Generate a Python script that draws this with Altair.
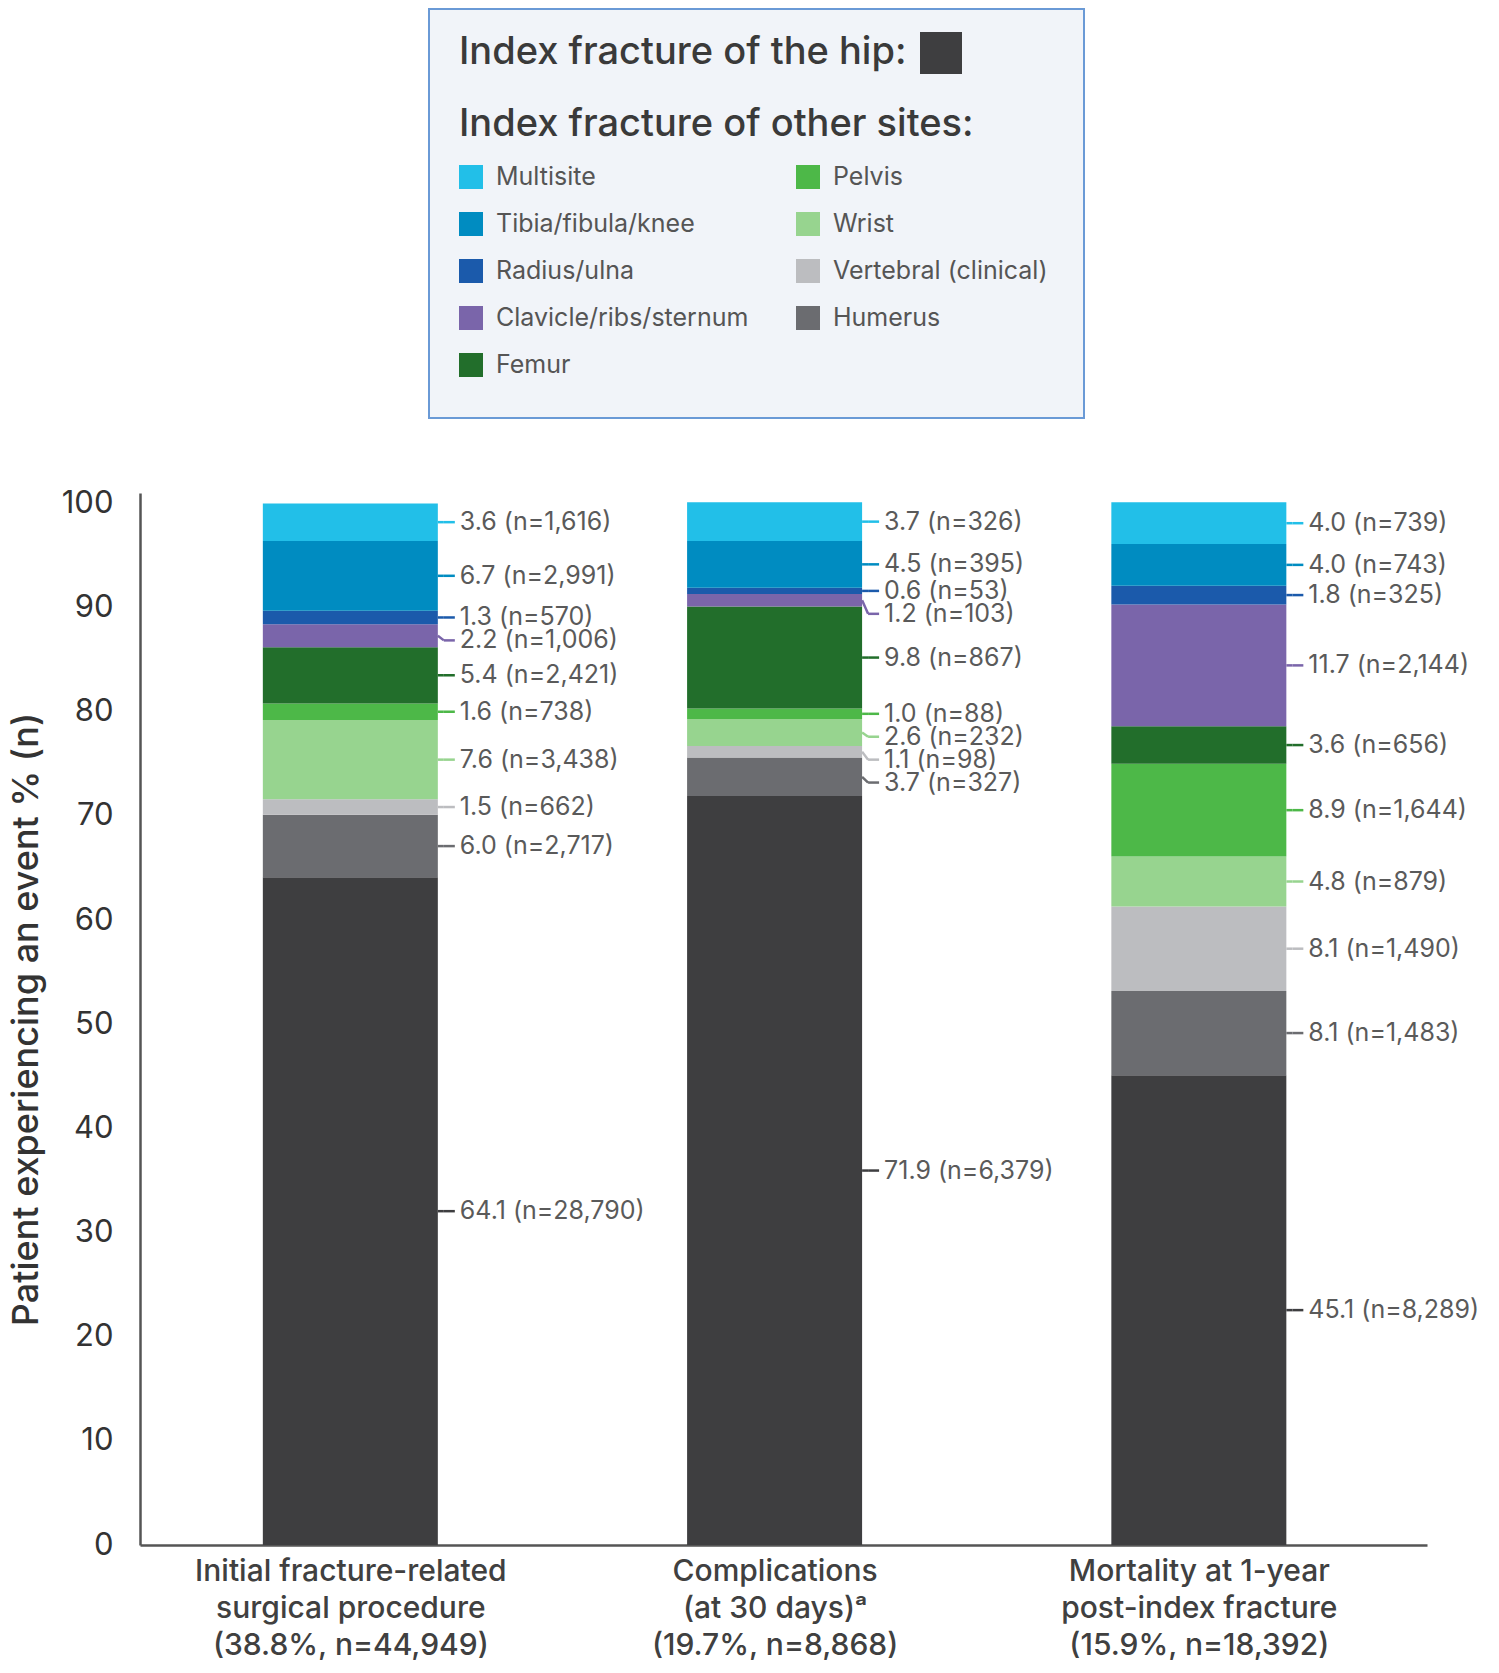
import json
import altair as alt
import pandas as pd

FONT = "Inter"

groups = [
    "Initial fracture-related\nsurgical procedure\n(38.8%, n=44,949)",
    "Complications\n(at 30 days)ᵃ\n(19.7%, n=8,868)",
    "Mortality at 1-year\npost-index fracture\n(15.9%, n=18,392)",
]

# stacking order, bottom to top
sites = ["Hip", "Humerus", "Vertebral (clinical)", "Wrist", "Pelvis", "Femur",
         "Clavicle/ribs/sternum", "Radius/ulna", "Tibia/fibula/knee", "Multisite"]
colors = ["#3e3e40", "#6b6c70", "#bcbdc0", "#97d48f", "#4db848", "#226e2b",
          "#7a65aa", "#1b5aab", "#008cc1", "#22bfe8"]

pct_surgery = [64.1, 6.0, 1.5, 7.6, 1.6, 5.4, 2.2, 1.3, 6.7, 3.6]
n_surgery = [28790, 2717, 662, 3438, 738, 2421, 1006, 570, 2991, 1616]
pct_compl = [71.9, 3.7, 1.1, 2.6, 1.0, 9.8, 1.2, 0.6, 4.5, 3.7]
n_compl = [6379, 327, 98, 232, 88, 867, 103, 53, 395, 326]
pct_mort = [45.1, 8.1, 8.1, 4.8, 8.9, 3.6, 11.7, 1.8, 4.0, 4.0]
n_mort = [8289, 1483, 1490, 879, 1644, 656, 2144, 325, 743, 739]

GAP = 2.2  # min distance between neighbouring labels, in % units
BAR_W = 175
HALF = BAR_W / 2

rows = []
for g, (pcts, ns) in enumerate([(pct_surgery, n_surgery), (pct_compl, n_compl), (pct_mort, n_mort)]):
    start = 0.0
    seg = []
    for k, (site, p, n) in enumerate(zip(sites, pcts, ns)):
        seg.append(dict(pos=g, site=site, order=k, start=start, end=start + p,
                        mid=start + p / 2, label=f"{p:.1f} (n={n:,})"))
        start += p
    # push overlapping labels downwards, starting from the top
    prev = None
    for r in reversed(seg):
        ly = r["mid"] if prev is None else min(r["mid"], prev - GAP)
        r["ly"] = ly
        prev = ly
    rows.extend(seg)

df = pd.DataFrame(rows)

color = alt.Color("site:N", scale=alt.Scale(domain=sites, range=colors), legend=None)

label_lines = json.dumps([g.split("\n") for g in groups], ensure_ascii=False)

x_enc = alt.X("pos:Q",
              scale=alt.Scale(domain=[-0.484, 2.526], nice=False, zero=False),
              axis=alt.Axis(values=[0, 1, 2], labelExpr=f"{label_lines}[datum.value]",
                            ticks=False, grid=False, title=None,
                            domainColor="#555555", domainWidth=2.5,
                            labelFontSize=30, labelLineHeight=37, labelPadding=11,
                            labelColor="#404040", labelFontWeight=500,
                            labelBaseline="top", labelLimit=800))

y_scale = alt.Scale(domain=[0, 101], nice=False)

bars = alt.Chart(df).mark_bar(size=BAR_W).encode(
    x=x_enc,
    y=alt.Y("start:Q", scale=y_scale,
            axis=alt.Axis(values=list(range(0, 101, 10)), ticks=False, grid=False,
                          title="Patient experiencing an event % (n)",
                          domainColor="#555555", domainWidth=2.5,
                          labelFontSize=31, labelPadding=27, labelColor="#333333",
                          titleFontSize=36, titlePadding=16, titleColor="#333333",
                          titleFontWeight=500)),
    y2="end:Q",
    color=color,
)

slant = alt.Chart(df).mark_rule(xOffset=HALF, x2Offset=HALF + 6, strokeWidth=2.5).encode(
    x="pos:Q", x2="pos:Q", y="mid:Q", y2="ly:Q", color=color,
)

tick = alt.Chart(df).mark_rule(xOffset=HALF + 6, x2Offset=HALF + 17, strokeWidth=2.5).encode(
    x="pos:Q", x2="pos:Q", y="ly:Q", color=color,
)

labels = alt.Chart(df).mark_text(align="left", baseline="middle", dx=HALF + 22,
                                 fontSize=25, color="#5a5a5a").encode(
    x="pos:Q", y="ly:Q", text="label:N",
)

main = alt.layer(bars, slant, tick, labels).properties(width=1287, height=1052)

# legend panel, drawn in pixels; LEG_X shifts the box to sit over the middle of the page
LEG_X = 289
BOX_W, BOX_H = 655, 411

leg = pd.DataFrame({"site": sites[1:][::-1]})
leg["i"] = range(len(leg))
leg["sx"] = LEG_X + 42 + 337 * (leg["i"] // 5)
leg["tx"] = leg["sx"] + 25
leg["y"] = 169 + 47 * (leg["i"] % 5)

heads = pd.DataFrame({"text": ["Index fracture of the hip:", "Index fracture of other sites:"],
                      "x": [LEG_X + 30] * 2, "y": [45, 117]})
hip = pd.DataFrame({"site": [sites[0]], "x": [LEG_X + 512], "y": [45]})
box = pd.DataFrame({"x": [LEG_X], "x2": [LEG_X + BOX_W], "y": [1], "y2": [BOX_H - 1]})

px = lambda f: alt.X(f, scale=None, axis=None)
py = lambda f: alt.Y(f, scale=None, axis=None)

legend_panel = alt.layer(
    alt.Chart(box).mark_rect(fill="#f1f4f9", stroke="#6a9ad6", strokeWidth=2).encode(
        x=px("x:Q"), x2="x2:Q", y=py("y:Q"), y2="y2:Q"),
    alt.Chart(leg).mark_square(size=576, opacity=1).encode(x=px("sx:Q"), y=py("y:Q"), color=color),
    alt.Chart(leg).mark_text(align="left", baseline="middle", fontSize=25, color="#555555").encode(
        x=px("tx:Q"), y=py("y:Q"), text="site:N"),
    alt.Chart(heads).mark_text(align="left", baseline="middle", fontSize=38, fontWeight=500,
                               color="#3a3a3a").encode(x=px("x:Q"), y=py("y:Q"), text="text:N"),
    alt.Chart(hip).mark_square(size=1764, opacity=1).encode(x=px("x:Q"), y=py("y:Q"), color=color),
).properties(width=LEG_X + BOX_W + 10, height=BOX_H)

chart = alt.vconcat(legend_panel, main, spacing=68).properties(
    background="white", padding=0
).configure(font=FONT).configure_view(strokeWidth=0)

chart.save("out.html", embed_options={"renderer": "svg", "actions": False})
